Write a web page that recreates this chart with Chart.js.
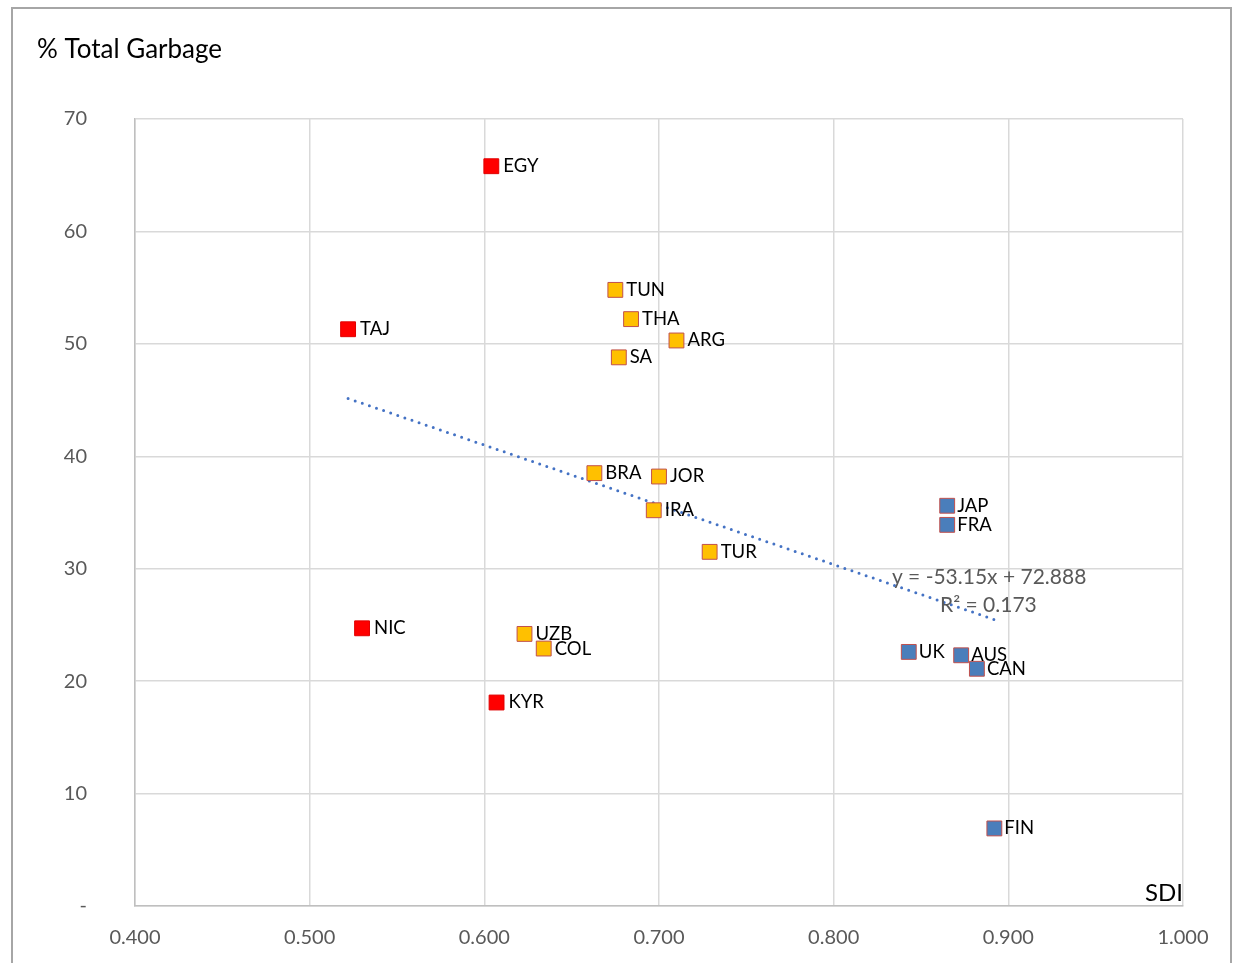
<!DOCTYPE html>
<html lang="en">
<head>
    <meta charset="UTF-8">
    <title>% Total Garbage vs SDI</title>
    <script src="https://cdn.jsdelivr.net/npm/chart.js"></script>
    <style>
      body { margin: 0; background: #fff; overflow: hidden; }
      canvas { display: block; }
    </style>
</head>
<body>
<canvas id="garbageChart" width="1234" height="963"></canvas>
<script>
  // low SDI group (red)
  const redNames = ['EGY', 'TAJ', 'NIC', 'KYR'];
  const redSdi = [0.604, 0.522, 0.530, 0.607];
  const redGarbage = [65.8, 51.3, 24.7, 18.1];

  // middle group (orange)
  const orangeNames = ['TUN', 'THA', 'ARG', 'SA', 'BRA', 'JOR', 'IRA', 'TUR', 'UZB', 'COL'];
  const orangeSdi = [0.675, 0.684, 0.710, 0.677, 0.663, 0.700, 0.697, 0.729, 0.623, 0.634];
  const orangeGarbage = [54.8, 52.2, 50.3, 48.8, 38.5, 38.2, 35.2, 31.5, 24.2, 22.9];

  // high SDI group (blue)
  const blueNames = ['JAP', 'FRA', 'UK', 'AUS', 'CAN', 'FIN'];
  const blueSdi = [0.865, 0.865, 0.843, 0.873, 0.882, 0.892];
  const blueGarbage = [35.6, 33.9, 22.6, 22.3, 21.1, 6.9];

  // linear trendline from the chart: y = -53.15x + 72.888, R² = 0.173
  const trendSlope = -53.15;
  const trendIntercept = 72.888;
  const trendR2 = 0.173;

  const xTicks = [0.4, 0.5, 0.6, 0.7, 0.8, 0.9, 1.0];
  const yTicks = [0, 10, 20, 30, 40, 50, 60, 70];

  const toPoints = (xs, ys) => xs.map((x, i) => ({ x: x, y: ys[i] }));

  const allSdi = redSdi.concat(orangeSdi, blueSdi);
  const sdiMin = Math.min(...allSdi);
  const sdiMax = Math.max(...allSdi);
  const trendPoints = [sdiMin, sdiMax].map(x => ({ x: x, y: trendSlope * x + trendIntercept }));

  const fontFam = 'Lato, "Liberation Sans", sans-serif';

  // draws the country codes next to each marker, plus titles and trendline text
  const labelPlugin = {
    id: 'labelPlugin',
    beforeDraw(chart) {
      const c = chart.ctx;
      c.save();
      c.fillStyle = '#fff';
      c.fillRect(0, 0, chart.width, chart.height);
      c.strokeStyle = '#a6a6a6';
      c.lineWidth = 2;
      c.beginPath();
      c.moveTo(12, 963);
      c.lineTo(12, 8);
      c.lineTo(1231, 8);
      c.lineTo(1231, 963);
      c.stroke();
      c.restore();
    },
    afterDatasetsDraw(chart) {
      const c = chart.ctx;
      c.save();
      c.font = '18.5px ' + fontFam;
      c.fillStyle = '#000';
      c.textBaseline = 'middle';
      c.textAlign = 'left';
      chart.data.datasets.forEach((ds, i) => {
        if (!ds.names) return;
        const meta = chart.getDatasetMeta(i);
        meta.data.forEach((pt, j) => {
          c.fillText(ds.names[j], pt.x + ds.labelOffset, pt.y);
        });
      });

      // axis titles
      c.font = '26px ' + fontFam;
      c.textAlign = 'left';
      c.fillText('% Total Garbage', 37, 50);
      c.font = '24px ' + fontFam;
      c.textAlign = 'right';
      c.fillText('SDI', chart.chartArea.right, chart.chartArea.bottom - 13);

      // trendline equation, placed just above the end of the trendline
      const xs = chart.scales.x, ys = chart.scales.y;
      const endX = xs.getPixelForValue(sdiMax);
      const endY = ys.getPixelForValue(trendPoints[1].y);
      c.font = '21px ' + fontFam;
      c.fillStyle = '#595959';
      c.textAlign = 'right';
      c.fillText('y = ' + trendSlope + 'x + ' + trendIntercept, endX + 92, endY - 42);
      c.textAlign = 'center';
      c.fillText('R² = ' + trendR2, endX - 6, endY - 14);
      c.restore();
    }
  };

  const ctx = document.getElementById('garbageChart').getContext('2d');

  new Chart(ctx, {
    type: 'scatter',
    data: {
      datasets: [
        {
          label: 'Trend',
          type: 'line',
          data: trendPoints,
          borderColor: '#4472C4',
          borderWidth: 3,
          borderDash: [0, 7.5],
          borderCapStyle: 'round',
          pointRadius: 0,
          fill: false,
          order: 4
        },
        {
          label: 'Low',
          data: toPoints(redSdi, redGarbage),
          names: redNames,
          labelOffset: 12,
          pointStyle: 'rect',
          pointRadius: 10.5,
          backgroundColor: '#FF0000',
          borderColor: '#E00000',
          borderWidth: 1
        },
        {
          label: 'Mid',
          data: toPoints(orangeSdi, orangeGarbage),
          names: orangeNames,
          labelOffset: 11,
          pointStyle: 'rect',
          pointRadius: 10.5,
          backgroundColor: '#FFC000',
          borderColor: '#C0504D',
          borderWidth: 1
        },
        {
          label: 'High',
          data: toPoints(blueSdi, blueGarbage),
          names: blueNames,
          labelOffset: 10,
          pointStyle: 'rect',
          pointRadius: 10.5,
          backgroundColor: '#4A7EBB',
          borderColor: '#C0504D',
          borderWidth: 1
        }
      ]
    },
    options: {
      responsive: false,
      animation: false,
      layout: { padding: { left: 0, top: 119, right: 51, bottom: 0 } },
      plugins: {
        legend: { display: false },
        tooltip: { enabled: false }
      },
      scales: {
        x: {
          type: 'linear',
          min: 0.4,
          max: 1.0,
          afterBuildTicks: scale => { scale.ticks = xTicks.map(v => ({ value: v })); },
          afterFit: scale => { scale.height = 57; },
          grid: { color: '#d9d9d9', lineWidth: 1.5, drawTicks: false },
          border: { color: '#bfbfbf', width: 1.5 },
          ticks: {
            padding: 20,
            color: '#595959',
            font: { family: fontFam, size: 20 },
            maxRotation: 0,
            callback: v => v.toFixed(3)
          }
        },
        y: {
          type: 'linear',
          min: 0,
          max: 70,
          afterBuildTicks: scale => { scale.ticks = yTicks.map(v => ({ value: v })); },
          afterFit: scale => {
            scale.width = 135;
            // the big label gap should not push the plot area up from the bottom
            scale.paddingTop = 0;
            scale.paddingBottom = 0;
          },
          grid: { color: '#d9d9d9', lineWidth: 1.5, drawTicks: false },
          border: { color: '#bfbfbf', width: 1.5 },
          ticks: {
            padding: 48,
            color: '#595959',
            font: { family: fontFam, size: 20 },
            callback: v => v === 0 ? '-' : v
          }
        }
      }
    },
    plugins: [labelPlugin]
  });
</script>
</body>
</html>
